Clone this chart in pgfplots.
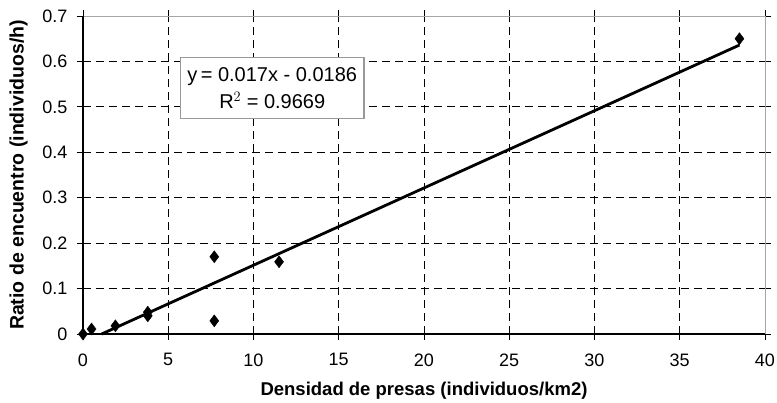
\documentclass[border=0pt]{standalone}
\usepackage{fontspec}
\setmainfont{Liberation Sans}
\usepackage{pgfplots}
\pgfplotsset{compat=1.18}

\begin{document}
\begin{tikzpicture}[x=1pt,y=1pt]
\useasboundingbox (-83,-68) rectangle (694,334);
\begin{axis}[
  at={(0,0)}, anchor=south west,
  width=682pt, height=318pt, scale only axis,
  xmin=0, xmax=40, ymin=0, ymax=0.7,
  xtick={0,5,...,40},
  ytick={0,0.1,...,0.7},
  yticklabels={0,0.1,0.2,0.3,0.4,0.5,0.6,0.7},
  tick align=outside,
  major tick length=6pt,
  tick style={black, line width=0.9pt},
  grid=major,
  major grid style={black, dash pattern=on 8pt off 5pt, line width=0.9pt},
  axis line style={draw=none},
  ticklabel style={font=\fontsize{18}{20}\selectfont},
  xticklabel style={yshift=-10pt},
  yticklabel style={xshift=-6pt},
  /pgf/number format/assume math mode=true,
  xlabel={\textbf{Densidad de presas (individuos/km2)}},
  ylabel={\textbf{Ratio de encuentro (individuos/h)}},
  xlabel style={font=\fontsize{18.5}{20}\selectfont, yshift=-9pt},
  ylabel style={font=\fontsize{19.5}{22}\selectfont, yshift=8pt},
  clip=false,
]
% frame: gray top/right, black left/bottom
\draw[gray!70, line width=0.9pt] (rel axis cs:0,1) -- (rel axis cs:1,1) -- (rel axis cs:1,0);
\draw[black, line width=1.2pt] (rel axis cs:0,1) -- (rel axis cs:0,0) -- (rel axis cs:1,0);

\addplot[only marks, mark=diamond*, mark size=6pt, black] coordinates {
  (0,0) (0.5,0.011) (1.9,0.018) (3.8,0.048) (3.8,0.040)
  (7.7,0.029) (7.7,0.170) (11.5,0.159) (38.5,0.650)
};
\addplot[black, line width=2.8pt] coordinates {(1.094,0) (38.5,0.636)};

\node[draw=gray!80, fill=white, line width=1.2pt, align=center,
      font=\fontsize{20}{27}\selectfont, inner xsep=7pt, inner ysep=10pt]
  at (axis cs:11.1,0.541) {y\,= 0.017x - 0.0186\\R$^2$ = 0.9669};
\end{axis}
\end{tikzpicture}
\end{document}
